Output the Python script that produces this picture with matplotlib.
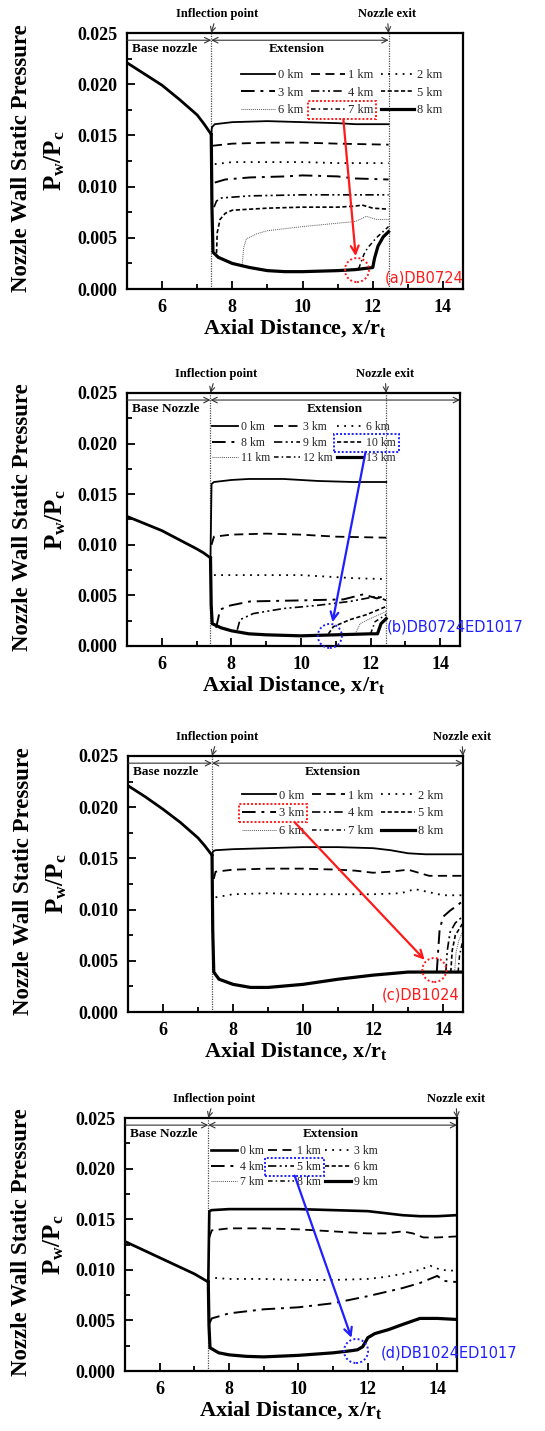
import matplotlib
matplotlib.use("Agg")
import matplotlib.pyplot as plt
from matplotlib.patches import Rectangle, Circle, FancyArrowPatch
from matplotlib.transforms import IdentityTransform, Bbox
from matplotlib.ticker import MultipleLocator, FormatStrFormatter
import numpy as np

# ---------------------------------------------------------------- data ---
# (a) DB0724
a_labels = ["0 km", "1 km", "2 km", "3 km", "4 km", "5 km", "6 km", "7 km", "8 km"]
a_base_x = [5.0, 5.5, 6.0, 6.5, 7.0, 7.2, 7.4]
a_base_y = [0.0221, 0.0210, 0.0199, 0.0185, 0.0170, 0.0161, 0.0151]
a_x = [
    [7.4, 7.42, 7.5, 8.0, 9.0, 10.0, 11.0, 11.5, 12.45],
    [7.45, 8.0, 9.0, 10.0, 11.0, 12.45],
    [7.5, 8.0, 9.0, 10.0, 11.0, 12.45],
    [7.5, 7.8, 8.5, 9.5, 10.0, 11.0, 11.5, 12.45],
    [7.48, 7.55, 7.7, 8.5, 10.0, 11.5, 12.45],
    [7.55, 7.57, 7.65, 7.8, 8.0, 9.0, 10.0, 11.0, 11.5, 11.7, 12.0, 12.45],
    [8.28, 8.32, 8.4, 8.7, 9.0, 10.0, 10.9, 11.5, 11.82, 12.1, 12.45],
    [11.6, 11.75, 11.85, 12.1, 12.45],
    [7.4, 7.42, 7.45, 7.6, 8.0, 8.5, 9.0, 9.5, 10.0, 11.0, 11.5, 12.0, 12.05, 12.15, 12.3, 12.45],
]
a_y = [
    [0.0151, 0.0158, 0.0161, 0.0163, 0.0164, 0.0163, 0.0162, 0.0161, 0.0161],
    [0.0140, 0.0142, 0.0143, 0.0143, 0.0142, 0.0141],
    [0.0122, 0.0124, 0.0124, 0.0124, 0.0123, 0.0123],
    [0.0104, 0.0107, 0.0109, 0.0110, 0.0111, 0.0110, 0.0108, 0.0107],
    [0.0080, 0.0086, 0.0089, 0.0091, 0.0092, 0.0092, 0.0092],
    [0.0035, 0.0055, 0.0068, 0.0074, 0.0077, 0.0079, 0.0080, 0.0080, 0.0081, 0.0082, 0.0079, 0.0078],
    [0.0022, 0.0040, 0.0049, 0.0054, 0.0057, 0.0061, 0.0064, 0.0066, 0.0071, 0.0068, 0.0068],
    [0.0020, 0.0034, 0.0040, 0.0050, 0.0061],
    [0.0151, 0.0080, 0.0036, 0.0031, 0.0025, 0.0021, 0.0018, 0.0017, 0.0017, 0.0018, 0.0019, 0.0021, 0.0030, 0.0042, 0.0051, 0.0056],
]

# (b) DB0724ED1017
b_labels = ["0 km", "3 km", "6 km", "8 km", "9 km", "10 km", "11 km", "12 km", "13 km"]
b_base_x = [5.0, 5.5, 6.0, 6.5, 7.0, 7.2, 7.4]
b_base_y = [0.0128, 0.0121, 0.0114, 0.0105, 0.0096, 0.0092, 0.0087]
b_x = [
    [7.4, 7.43, 7.5, 8.0, 8.5, 9.5, 10.5, 11.5, 12.45],
    [7.43, 7.5, 8.0, 9.0, 10.0, 11.0, 12.45],
    [7.5, 8.0, 9.0, 10.0, 11.0, 11.5, 12.45],
    [7.56, 7.68, 7.97, 8.54, 9.98, 11.22, 11.79, 12.18, 12.45],
    [8.17, 8.25, 8.63, 9.5, 10.45, 11.41, 12.18, 12.45],
    [10.79, 10.93, 11.41, 11.89, 12.45],
    [11.56, 11.7, 11.99, 12.45],
    [12.0, 12.13, 12.45],
    [7.4, 7.42, 7.45, 7.7, 8.0, 8.5, 9.0, 10.0, 11.0, 12.0, 12.2, 12.3, 12.45],
]
b_y = [
    [0.0087, 0.0160, 0.0162, 0.0164, 0.0165, 0.0165, 0.0163, 0.0162, 0.0162],
    [0.0100, 0.0108, 0.0110, 0.0111, 0.0110, 0.0108, 0.0107],
    [0.0070, 0.0070, 0.0070, 0.0070, 0.0068, 0.0067, 0.0066],
    [0.0018, 0.0036, 0.0040, 0.0044, 0.0045, 0.0046, 0.0051, 0.0047, 0.0050],
    [0.0016, 0.0026, 0.0032, 0.0037, 0.0040, 0.0044, 0.0049, 0.0045],
    [0.0012, 0.0019, 0.0026, 0.0031, 0.0039],
    [0.0012, 0.0022, 0.0027, 0.0034],
    [0.0012, 0.0024, 0.0031],
    [0.0087, 0.0040, 0.0022, 0.0018, 0.0015, 0.0012, 0.0011, 0.0010, 0.0011, 0.0012, 0.0012, 0.0022, 0.0027],
]

# (c) DB1024
c_labels = ["0 km", "1 km", "2 km", "3 km", "4 km", "5 km", "6 km", "7 km", "8 km"]
c_base_x = [5.0, 5.5, 6.0, 6.5, 7.0, 7.2, 7.4]
c_base_y = [0.0221, 0.0210, 0.0198, 0.0185, 0.0170, 0.0162, 0.0153]
c_x = [
    [7.4, 7.43, 7.5, 8.0, 9.0, 10.0, 11.0, 12.0, 12.5, 13.0, 13.5, 14.55],
    [7.45, 7.5, 8.0, 9.0, 10.0, 11.0, 11.5, 12.0, 12.5, 13.0, 13.3, 13.6, 14.55],
    [7.5, 8.0, 9.0, 10.0, 11.0, 12.0, 12.8, 13.2, 13.6, 14.0, 14.55],
    [13.82, 13.86, 13.9, 14.0, 14.2, 14.4, 14.55],
    [14.08, 14.12, 14.2, 14.35, 14.55],
    [14.22, 14.26, 14.35, 14.55],
    [14.33, 14.37, 14.45, 14.55],
    [14.43, 14.47, 14.55],
    [7.4, 7.42, 7.45, 7.6, 8.0, 8.5, 9.0, 10.0, 11.0, 12.0, 13.0, 14.0, 14.55],
]
c_y = [
    [0.0153, 0.0157, 0.0158, 0.0159, 0.0160, 0.0161, 0.0161, 0.0160, 0.0158, 0.0155, 0.0154, 0.0154],
    [0.0130, 0.0137, 0.0139, 0.0140, 0.0140, 0.0139, 0.0138, 0.0136, 0.0137, 0.0139, 0.0136, 0.0133, 0.0133],
    [0.0112, 0.0115, 0.0116, 0.0115, 0.0115, 0.0115, 0.0116, 0.0120, 0.0117, 0.0114, 0.0114],
    [0.0039, 0.0060, 0.0080, 0.0093, 0.0099, 0.0104, 0.0108],
    [0.0039, 0.0060, 0.0078, 0.0087, 0.0093],
    [0.0039, 0.0060, 0.0075, 0.0086],
    [0.0039, 0.0058, 0.0070, 0.0078],
    [0.0039, 0.0055, 0.0068],
    [0.0153, 0.0080, 0.0039, 0.0032, 0.0027, 0.0024, 0.0024, 0.0027, 0.0032, 0.0036, 0.0039, 0.0039, 0.0039],
]

# (d) DB1024ED1017
d_labels = ["0 km", "1 km", "3 km", "4 km", "5 km", "6 km", "7 km", "8 km", "9 km"]
d_base_x = [5.0, 5.5, 6.0, 6.5, 7.0, 7.2, 7.4]
d_base_y = [0.0128, 0.0120, 0.0112, 0.0104, 0.0096, 0.0092, 0.0088]
d_tail_x = [11.7, 11.85, 12.0, 12.2, 12.6, 13.0, 13.5, 14.0, 14.55]
d_tail_y = [0.0021, 0.0024, 0.0033, 0.0037, 0.0041, 0.0046, 0.0052, 0.0052, 0.0051]
d_x = [
    [7.4, 7.43, 7.5, 8.0, 9.0, 10.0, 11.0, 12.0, 12.5, 13.0, 13.5, 14.0, 14.55],
    [7.43, 7.5, 8.0, 9.0, 10.0, 11.0, 11.5, 12.0, 12.5, 13.0, 13.3, 13.6, 14.0, 14.55],
    [7.6, 8.0, 9.0, 10.0, 11.0, 12.0, 12.5, 13.0, 13.5, 13.8, 14.1, 14.55],
    [7.43, 7.5, 8.0, 9.0, 10.0, 11.0, 12.0, 12.5, 13.0, 13.5, 14.0, 14.2, 14.55],
    d_tail_x, d_tail_x, d_tail_x, d_tail_x,
    [7.4, 7.42, 7.45, 7.7, 8.0, 8.5, 9.0, 10.0, 11.0, 11.5] + d_tail_x,
]
d_y = [
    [0.0088, 0.0158, 0.0159, 0.0160, 0.0160, 0.0160, 0.0159, 0.0158, 0.0156, 0.0154, 0.0153, 0.0153, 0.0154],
    [0.0132, 0.0139, 0.0141, 0.0141, 0.0140, 0.0138, 0.0137, 0.0136, 0.0136, 0.0138, 0.0136, 0.0132, 0.0132, 0.0133],
    [0.0092, 0.0091, 0.0091, 0.0090, 0.0090, 0.0091, 0.0093, 0.0096, 0.0100, 0.0104, 0.0100, 0.0099],
    [0.0047, 0.0052, 0.0057, 0.0061, 0.0063, 0.0067, 0.0074, 0.0078, 0.0082, 0.0087, 0.0094, 0.0089, 0.0088],
    d_tail_y, d_tail_y, d_tail_y, d_tail_y,
    [0.0088, 0.0045, 0.0023, 0.0018, 0.0016, 0.00145, 0.0014, 0.00155, 0.0018, 0.0020] + d_tail_y,
]

# ----------------------------------------------------------- styling ---
plt.rcParams["font.family"] = "Liberation Serif"
plt.rcParams["font.weight"] = "bold"
plt.rcParams["axes.labelweight"] = "bold"
plt.rcParams["mathtext.fontset"] = "custom"
plt.rcParams["mathtext.rm"] = "Liberation Serif:bold"
plt.rcParams["mathtext.it"] = "Liberation Serif:bold"
plt.rcParams["mathtext.bf"] = "Liberation Serif:bold"

styles = [
    dict(ls="-", lw=1.3),
    dict(ls=(0, (5, 3)), lw=1.3),
    dict(ls=(0, (1, 3)), lw=1.3),
    dict(ls=(0, (7, 3, 1.5, 3)), lw=1.4),
    dict(ls=(0, (5, 2, 1.2, 2, 1.2, 2)), lw=1.2),
    dict(ls=(0, (2.5, 1.5)), lw=1.2),
    dict(ls=(0, (1, 1)), lw=0.7, color="0.35"),
    dict(ls=(0, (3, 2, 1, 2)), lw=1.1),
    dict(ls="-", lw=2.3),
]

panels = [
    dict(labels=a_labels, bx=a_base_x, by=a_base_y, xs=a_x, ys=a_y,
         pos=[0.233, 0.798, 0.6165, 0.1789], exit=12.45, ext_end=12.45, ext_c=9.83,
         base="Base nozzle", leg=(0.34, 0.86), fs=9, cs=0.6, ls=0.45, hl=2.7,
         mark=7, circ=(11.55, 0.00186), col="#ff1a1a", tag="(a)DB0724",
         tag_xy=(12.35, 0.00107), frac=0.52, lw0=1.3),
    dict(labels=b_labels, bx=b_base_x, by=b_base_y, xs=b_x, ys=b_y,
         pos=[0.233, 0.5486, 0.611, 0.1768], exit=12.45, ext_end=14.57, ext_c=10.96,
         base="Base Nozzle", leg=(0.255, 0.888), fs=8.5, cs=0.35, ls=0.3, hl=2.2,
         mark=5, circ=(10.83, 0.00099), col="#1f1fff", tag="(b)DB0724ED1017",
         tag_xy=(12.47, 0.00188), frac=0.49, lw0=1.3),
    dict(labels=c_labels, bx=c_base_x, by=c_base_y, xs=c_x, ys=c_y,
         pos=[0.2349, 0.2928, 0.6147, 0.1789], exit=14.57, ext_end=14.57, ext_c=10.85,
         base="Base nozzle", leg=(0.34, 0.868), fs=9, cs=0.6, ls=0.45, hl=2.7,
         mark=3, circ=(13.75, 0.0041), col="#ff1a1a", tag="(c)DB1024",
         tag_xy=(12.25, 0.00166), frac=0.82, lw0=1.3),
    dict(labels=d_labels, bx=d_base_x, by=d_base_y, xs=d_x, ys=d_y,
         pos=[0.2294, 0.0419, 0.6092, 0.1768], exit=14.57, ext_end=14.57, ext_c=10.94,
         base="Base Nozzle", leg=(0.26, 0.893), fs=8.5, cs=0.35, ls=0.3, hl=2.2,
         mark=4, circ=(11.66, 0.00198), col="#1f1fff", tag="(d)DB1024ED1017",
         tag_xy=(12.37, 0.00178), frac=0.5, lw0=1.9),
]

fig = plt.figure(figsize=(5.45, 14.31), dpi=100)

order = [0, 3, 6, 1, 4, 7, 2, 5, 8]   # legend shown row by row
axes, legends = [], []
for p in panels:
    ax = fig.add_axes(p["pos"])
    lines = []
    for i, (lab, xs, ys) in enumerate(zip(p["labels"], p["xs"], p["ys"])):
        st = dict(styles[i])
        st.setdefault("color", "black")
        if i == 0:
            st["lw"] = p["lw0"]
        ln, = ax.plot(xs, ys, label=lab, zorder=3 if i == 8 else 2, **st)
        lines.append(ln)
    ax.plot(p["bx"], p["by"], color="black", lw=2.0, zorder=3)

    ax.set_xlim(5.0, 14.57)
    ax.set_ylim(0.0, 0.025)
    ax.xaxis.set_major_locator(MultipleLocator(2))
    ax.xaxis.set_minor_locator(MultipleLocator(1))
    ax.yaxis.set_major_locator(MultipleLocator(0.005))
    ax.yaxis.set_minor_locator(MultipleLocator(0.0025))
    ax.yaxis.set_major_formatter(FormatStrFormatter("%.3f"))
    ax.tick_params(which="both", direction="in", labelsize=13, pad=7, width=1.3)
    ax.tick_params(which="major", length=6)
    ax.tick_params(which="minor", length=3.5)
    for s in ax.spines.values():
        s.set_linewidth(1.6)

    # region markers
    ax.axvline(7.4, color="0.3", ls=(0, (1, 1)), lw=0.9, zorder=1)
    if p["exit"] < 14.5:
        ax.axvline(p["exit"], color="0.3", ls=(0, (1, 1)), lw=0.9, zorder=1)
    ya = 0.0243
    ax.annotate("", xy=(7.4, ya), xytext=(5.0, ya),
                arrowprops=dict(arrowstyle="->", lw=0.8, color="0.2", shrinkA=0, shrinkB=0))
    ax.annotate("", xy=(p["ext_end"], ya), xytext=(7.4, ya),
                arrowprops=dict(arrowstyle="<->", lw=0.8, color="0.2", shrinkA=0, shrinkB=0))
    ax.text(5.15, 0.0234, p["base"], fontsize=9.5, va="center", ha="left")
    ax.text(p["ext_c"], 0.0234, "Extension", fontsize=9.5, va="center", ha="center")
    ax.annotate("Inflection point", xy=(7.4, 0.025), xytext=(4, 14),
                textcoords="offset points", ha="center", va="center", fontsize=9,
                annotation_clip=False,
                arrowprops=dict(arrowstyle="->", lw=0.8, color="0.2", shrinkA=1, shrinkB=0))
    ax.annotate("Nozzle exit", xy=(p["exit"], 0.025), xytext=(-1, 14),
                textcoords="offset points", ha="center", va="center", fontsize=9,
                annotation_clip=False,
                arrowprops=dict(arrowstyle="->", lw=0.8, color="0.2", shrinkA=1, shrinkB=0))

    leg = ax.legend([lines[k] for k in order], [p["labels"][k] for k in order],
                    ncol=3, loc="upper left", bbox_to_anchor=p["leg"], frameon=False,
                    prop=dict(family="Liberation Serif", weight="normal", size=p["fs"]),
                    handlelength=p["hl"], handletextpad=0.25, columnspacing=p["cs"],
                    labelspacing=p["ls"], borderpad=0, borderaxespad=0)
    for t in leg.get_texts():
        t.set_color("0.15")

    ax.text(-0.3125, 0.51, "Nozzle Wall Static Pressure", transform=ax.transAxes,
            rotation=90, ha="center", va="center", fontsize=16.5, weight="bold")
    ax.text(-0.214, 0.5, r"$\mathrm{P_w/P_c}$", transform=ax.transAxes,
            rotation=90, ha="center", va="center", fontsize=18)
    ax.set_xlabel(r"Axial Distance, x/r$_\mathrm{t}$", fontsize=16, labelpad=1,
                  fontweight="bold")

    ax.text(p["tag_xy"][0], p["tag_xy"][1], p["tag"], color=p["col"], fontsize=10.5,
            family="DejaVu Sans", weight="normal", va="center", ha="left",
            clip_on=False, zorder=5)
    axes.append(ax)
    legends.append(leg)

# highlight boxes, arrows, circles (pixel space)
fig.canvas.draw()
r = fig.canvas.get_renderer()
for ax, leg, p in zip(axes, legends, panels):
    j = order.index(p["mark"])
    bb = Bbox.union([leg.get_texts()[j].get_window_extent(r),
                     leg.legend_handles[j].get_window_extent(r)])
    pad = 3
    x0, y0, x1, y1 = bb.x0 - pad, bb.y0 - pad, bb.x1 + pad, bb.y1 + pad
    fig.add_artist(Rectangle((x0, y0), x1 - x0, y1 - y0, transform=IdentityTransform(),
                             fill=False, ec=p["col"], lw=1.4, ls=(0, (1, 1))))
    cx, cy = ax.transData.transform(p["circ"])
    rad = 12
    fig.add_artist(Circle((cx, cy), rad, transform=IdentityTransform(),
                          fill=False, ec=p["col"], lw=1.4, ls=(0, (1, 1.2))))
    sx, sy = x0 + p["frac"] * (x1 - x0), y0
    v = np.array([sx - cx, sy - cy])
    v = v / np.hypot(*v)
    ex, ey = cx + v[0] * (rad + 2), cy + v[1] * (rad + 2)
    fig.add_artist(FancyArrowPatch((sx, sy), (ex, ey), transform=IdentityTransform(),
                                   arrowstyle="->", mutation_scale=14, color=p["col"],
                                   lw=1.6, shrinkA=0, shrinkB=0))

fig.savefig("out.png", dpi=100)
